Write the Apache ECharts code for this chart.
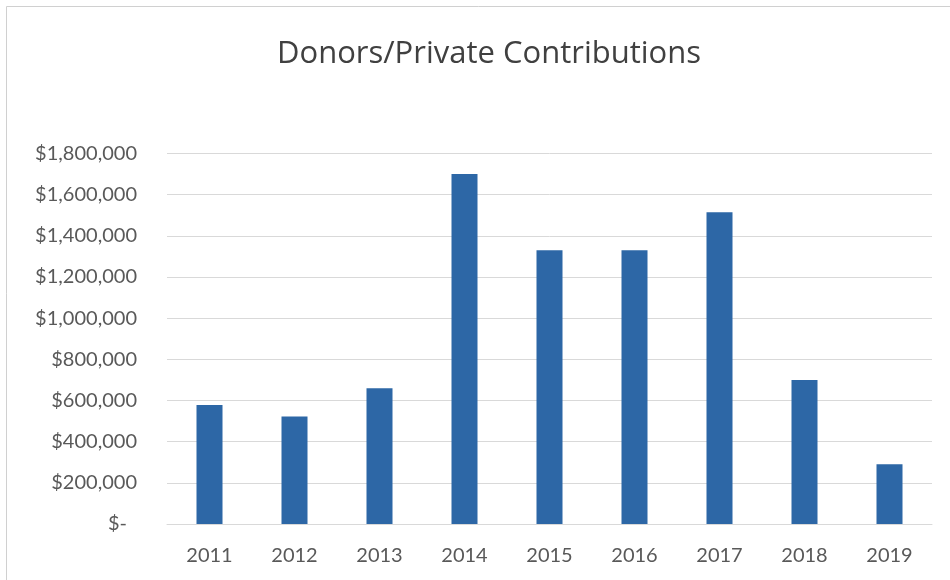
<!DOCTYPE html>
<html>
<head>
<meta charset="utf-8">
<script src="https://cdn.jsdelivr.net/npm/echarts@6/dist/echarts.min.js"></script>
<style>
  html, body { margin: 0; padding: 0; background: #fff; }
  #chart { width: 950px; height: 580px; }
</style>
</head>
<body>
<div id="chart"></div>
<script>
const titleText = 'Donors/Private Contributions';
const years = ['2011', '2012', '2013', '2014', '2015', '2016', '2017', '2018', '2019'];
const contributions = [578000, 522000, 659000, 1700000, 1330000, 1330000, 1515000, 700000, 290000];
const yMin = 0;
const yMax = 1800000;
const yStep = 200000;

const chart = echarts.init(document.getElementById('chart'), null, { renderer: 'canvas' });
const fontFamily = 'Lato, "Open Sans", sans-serif';

chart.setOption({
  animation: false,
  backgroundColor: '#ffffff',
  graphic: [{
    type: 'rect',
    shape: { x: 6.5, y: 6.5, width: 960, height: 600 },
    style: { fill: 'none', stroke: '#d0d0d0', lineWidth: 1 },
    silent: true
  }],
  title: {
    text: titleText,
    left: 484,
    textAlign: 'center',
    top: 34,
    textStyle: { fontFamily: '"Open Sans", sans-serif', fontSize: 31, fontWeight: 'normal', color: '#404040' }
  },
  grid: { left: 167, right: 18, top: 153.5, bottom: 56, containLabel: false },
  xAxis: {
    type: 'category',
    data: years,
    axisLine: { show: true, lineStyle: { color: '#d9d9d9', width: 1 } },
    axisTick: { show: false },
    axisLabel: { margin: 22, fontFamily: fontFamily, fontSize: 20, color: '#595959' }
  },
  yAxis: {
    type: 'value',
    min: yMin,
    max: yMax,
    interval: yStep,
    axisLine: { show: false },
    axisTick: { show: false },
    splitLine: { lineStyle: { color: '#d9d9d9', width: 1 } },
    axisLabel: {
      margin: 30,
      fontFamily: fontFamily,
      fontSize: 20,
      color: '#595959',
      formatter: function (v) {
        if (v === 0) return '{z|$-}';
        return '$' + v.toLocaleString('en-US');
      },
      rich: {
        z: { fontFamily: fontFamily, fontSize: 20, color: '#595959', padding: [0, 10, 0, 0] }
      }
    }
  },
  series: [{
    type: 'bar',
    data: contributions,
    barWidth: 26,
    itemStyle: { color: '#2d67a6' }
  }]
});
</script>
</body>
</html>
